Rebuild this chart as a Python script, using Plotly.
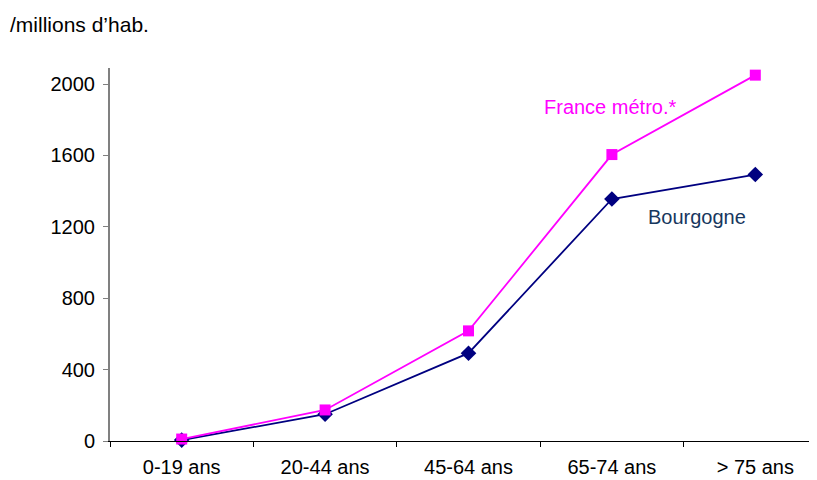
import plotly.graph_objects as go

categories = ["0-19 ans", "20-44 ans", "45-64 ans", "65-74 ans", "> 75 ans"]
france = [11, 174, 617, 1605, 2050]
bourgogne = [5, 150, 492, 1356, 1493]
y_ticks = [0, 400, 800, 1200, 1600, 2000]

FONT = "Liberation Sans, Arial, sans-serif"
# page body has an 8px margin; compensate so the plot area lands where intended
OFF = 8
PL, PT, PB = 110, 68, 441          # page coordinates of plot left/top/bottom
ML = PL - OFF
MT = PT - OFF
H = 480
MB = H - (PB - OFF)
plot_w = 717
W = ML + plot_w
MR = 0
plot_h = PB - PT

fig = go.Figure()
fig.add_trace(go.Scatter(
    x=categories, y=bourgogne, mode="lines+markers",
    line=dict(color="#000080", width=1.8),
    marker=dict(symbol="diamond", size=12, color="#000080"),
    name="Bourgogne", showlegend=False, cliponaxis=False))
fig.add_trace(go.Scatter(
    x=categories, y=france, mode="lines+markers",
    line=dict(color="#FF00FF", width=1.8),
    marker=dict(symbol="square", size=11, color="#FF00FF"),
    name="France métro.*", showlegend=False, cliponaxis=False))

fig.add_annotation(x=2.99, y=1869, xref="x", yref="y", text="France métro.*",
                   showarrow=False, font=dict(family=FONT, size=20, color="#FF00FF"))
fig.add_annotation(x=3.59, y=1257, xref="x", yref="y", text="Bourgogne",
                   showarrow=False, font=dict(family=FONT, size=20, color="#17375E"))

fig.add_annotation(x=(8 - PL) / plot_w, y=(PB - 25) / plot_h, xref="paper", yref="paper",
                   xanchor="left", yanchor="middle", text="/millions d’hab.",
                   showarrow=False, font=dict(family=FONT, size=21, color="#000000"))

fig.update_layout(
    width=W, height=H, margin=dict(l=ML, r=MR, t=MT, b=MB),
    paper_bgcolor="white", plot_bgcolor="white",
    font=dict(family=FONT, size=20, color="#000000"),
    xaxis=dict(type="category", range=[-0.5, 4.5],
               showline=True, linecolor="#000000", linewidth=1,
               ticks="outside", ticklen=5, tickcolor="#000000", tickson="boundaries",
               showgrid=False, zeroline=False, tickfont=dict(size=20),
               ticklabelstandoff=8),
    yaxis=dict(range=[0, 2090], tickvals=y_ticks, showline=True, linecolor="#808080",
               linewidth=2, ticks="outside", ticklen=5, tickcolor="#808080",
               showgrid=False, zeroline=False, tickfont=dict(size=20),
               ticklabelstandoff=4),
)

fig.write_html("out.html")
